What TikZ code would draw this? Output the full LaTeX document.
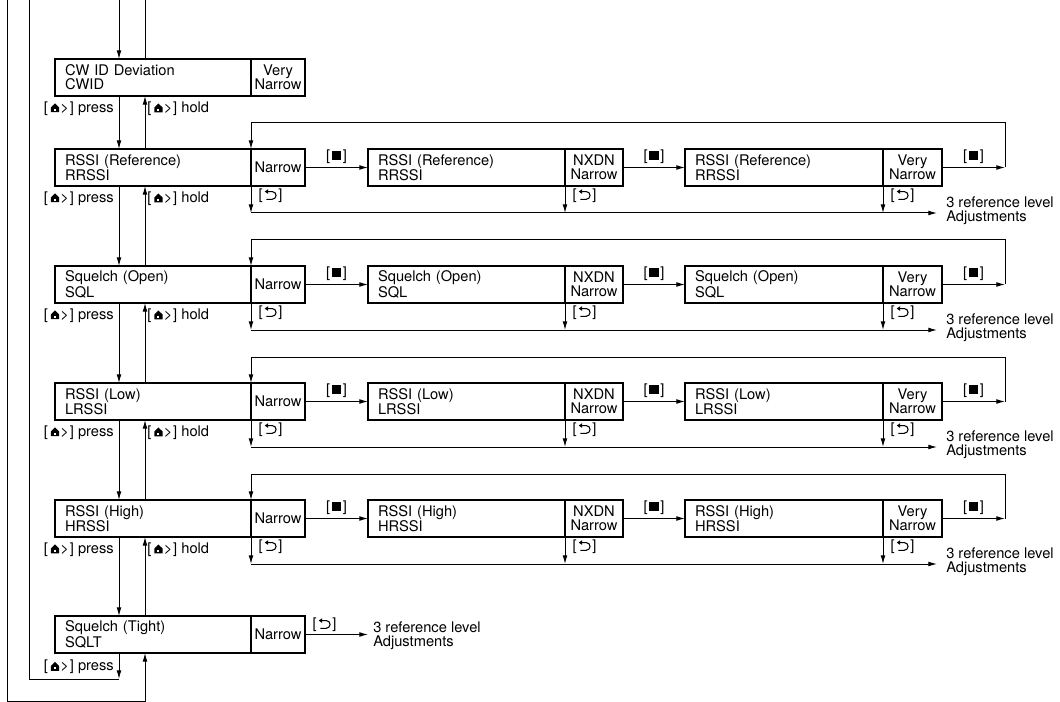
\documentclass[tikz,border=0pt]{standalone}
\usepackage{fontspec}
\setmainfont{TeX Gyre Heros}
\usetikzlibrary{arrows.meta,calc}
\newcommand\hmsym{\begin{pgfpicture}\pgfsetbaseline{0pt}%
  \pgfpathmoveto{\pgfpoint{0pt}{0pt}}\pgfpathlineto{\pgfpoint{0pt}{3.6pt}}%
  \pgfpathlineto{\pgfpoint{3.1pt}{6.6pt}}\pgfpathlineto{\pgfpoint{6.2pt}{3.6pt}}%
  \pgfpathlineto{\pgfpoint{6.2pt}{0pt}}\pgfpathclose\pgfusepath{fill}%
  \pgfsetfillcolor{white}%
  \pgfpathrectangle{\pgfpoint{2.4pt}{1.2pt}}{\pgfpoint{1.4pt}{1.6pt}}\pgfusepath{fill}%
  \end{pgfpicture}}
\newcommand\rtsym{\begin{pgfpicture}\pgfsetbaseline{0pt}%
  \pgfsetlinewidth{0.8pt}%
  \pgfpathmoveto{\pgfpoint{2pt}{5.8pt}}\pgfpathlineto{\pgfpoint{5.6pt}{5.8pt}}%
  \pgfpatharc{90}{-90}{2.9pt}\pgfpathlineto{\pgfpoint{1.2pt}{0pt}}\pgfusepath{stroke}%
  \pgfpathmoveto{\pgfpoint{0pt}{5.8pt}}\pgfpathlineto{\pgfpoint{2.6pt}{7.6pt}}%
  \pgfpathlineto{\pgfpoint{2.6pt}{4pt}}\pgfpathclose\pgfusepath{fill}%
  \end{pgfpicture}}
\newcommand\sqsym{\rule[0.3pt]{6.8pt}{6.8pt}}
\newcommand\hmkey{[\kern2.2pt\hmsym\kern1pt>\kern0.6pt]}
\newcommand\rtkey{[\kern1.6pt\rtsym\kern1.4pt]}
\newcommand\sqkey{[\kern1.4pt\sqsym\kern1.4pt]}
\begin{document}
\begin{tikzpicture}[x=0.75pt,y=-0.75pt,
  box/.style={draw, line width=1.3pt, minimum height=27.75pt, inner sep=0pt, outer sep=0pt, anchor=north west, font=\fontsize{11pt}{10.5pt}\selectfont},
  lbox/.style={box, align=left, inner xsep=7.5pt},
  rbox/.style={box, align=center},
  lab/.style={inner sep=0pt, font=\fontsize{11pt}{10.5pt}\selectfont},
  txt/.style={inner sep=0pt, align=left, anchor=west, font=\fontsize{11pt}{10.5pt}\selectfont},
  arr/.style={-{Latex[length=6.5pt,width=3.6pt]}, line width=0.75pt},
  ln/.style={line width=0.75pt}]
\useasboundingbox (0,0) rectangle (1060,702);
% main column
\node[lbox, text width=132pt] (M0) at (55,59) {CW ID Deviation\\CWID};
\node[rbox, minimum width=40.5pt] (MR0) at (251,59) {Very\\Narrow};
\node[lbox, text width=132pt] (M1) at (55,149) {RSSI (Reference)\\RRSSI};
\node[rbox, minimum width=40.5pt] (MR1) at (251,149) {Narrow};
\node[lbox, text width=132pt] (M2) at (55,266) {Squelch (Open)\\SQL};
\node[rbox, minimum width=40.5pt] (MR2) at (251,266) {Narrow};
\node[lbox, text width=132pt] (M3) at (55,383) {RSSI (Low)\\LRSSI};
\node[rbox, minimum width=40.5pt] (MR3) at (251,383) {Narrow};
\node[lbox, text width=132pt] (M4) at (55,500) {RSSI (High)\\HRSSI};
\node[rbox, minimum width=40.5pt] (MR4) at (251,500) {Narrow};
\node[lbox, text width=132pt] (M5) at (55,616) {Squelch (Tight)\\SQLT};
\node[rbox, minimum width=40.5pt] (MR5) at (251,616) {Narrow};
\coordinate (xa) at (119,0);
\coordinate (xb) at (145,0);
\coordinate (i1) at (29,0);
\coordinate (i2) at (29,679);
\coordinate (o1) at (7,0);
\coordinate (o2) at (7,701);
% press / hold between main boxes
\foreach \a/\b in {0/1,1/2,2/3,3/4,4/5}{
  \draw[arr] (xa |- M\a.south) -- (xa |- M\b.north);
  \draw[arr] (xb |- M\b.north) -- (xb |- M\a.south);
  \node[lab, anchor=east] (P\a) at ($(xa |- M\a.south)+(-5,12.5)$) {\hmkey{} press};
  \node[lab, anchor=west] (H\a) at ($(xb |- M\a.south)+(2,12.5)$) {\hmkey{} hold};
}
% top and bottom loops
\draw[arr] (xa |- i1) -- (xa |- M0.north);
\draw[ln] (xb |- M0.north) -- (xb |- i1);
\draw[arr] (xa |- M5.south) -- (xa |- i2);
\draw[ln] (xa |- i2) -- (i2) -- (i1);
\node[lab, anchor=east] (P5) at ($(xa |- M5.south)+(-5,14)$) {\hmkey{} press};
\draw[arr] (o1) -- (o2) -| (xb |- M5.south);
% SQLT exit
\coordinate (S5) at (368,634.5);
\draw[arr] (MR5.east) -- (S5);
\node[lab, anchor=west] (Q5) at (312,624.5) {\rtkey};
\node[txt] (T5) at ($(S5)+(5,1.5)$) {3 reference level\\Adjustments};
% rows
\foreach \i/\t/\tx in {1/149/{RSSI (Reference)\\RRSSI},2/266/{Squelch (Open)\\SQL},3/383/{RSSI (Low)\\LRSSI},4/500/{RSSI (High)\\HRSSI}}{
  \node[lbox, text width=132.75pt] (A\i) at (368,\t) {\tx};
  \node[rbox, minimum width=43.5pt] (AR\i) at (565,\t) {NXDN\\Narrow};
  \node[lbox, text width=133.5pt] (B\i) at (685,\t) {\tx};
  \node[rbox, minimum width=44.25pt] (BR\i) at (883,\t) {Very\\Narrow};
  \coordinate (E\i) at (1005,\t+18.5);
  \coordinate (L\i) at (1005,\t-26);
  \coordinate (R\i) at (937,\t+64);
  \draw[arr] (MR\i.east) -- (A\i.west);
  \draw[arr] (AR\i.east) -- (B\i.west);
  \draw[arr] (BR\i.east) -- (E\i);
  \node[lab] (qa\i) at ($(MR\i.east)!.5!(A\i.west)+(0,-11)$) {\sqkey};
  \node[lab] (qb\i) at ($(AR\i.east)!.5!(B\i.west)+(0,-11)$) {\sqkey};
  \node[lab] (qc\i) at ($(BR\i.east)!.5!(E\i)+(0,-11)$) {\sqkey};
  \draw[arr] (E\i) -- (L\i) -| (MR\i.north west);
  \draw[arr] (MR\i.south west) -- (MR\i.south west |- R\i);
  \draw[arr] (AR\i.south west) -- (AR\i.south west |- R\i);
  \draw[arr] (BR\i.south west) -- (BR\i.south west |- R\i);
  \node[lab, anchor=west] (ra\i) at ($(MR\i.south west)+(7,9.5)$) {\rtkey};
  \node[lab, anchor=west] (rb\i) at ($(AR\i.south west)+(7,9.5)$) {\rtkey};
  \node[lab, anchor=west] (rc\i) at ($(BR\i.south west)+(7,9.5)$) {\rtkey};
  \draw[arr] (MR\i.south west |- R\i) -- (R\i);
  \node[txt] (T\i) at ($(R\i)+(9,-2.5)$) {3 reference level\\Adjustments};
}
\end{tikzpicture}
\end{document}
